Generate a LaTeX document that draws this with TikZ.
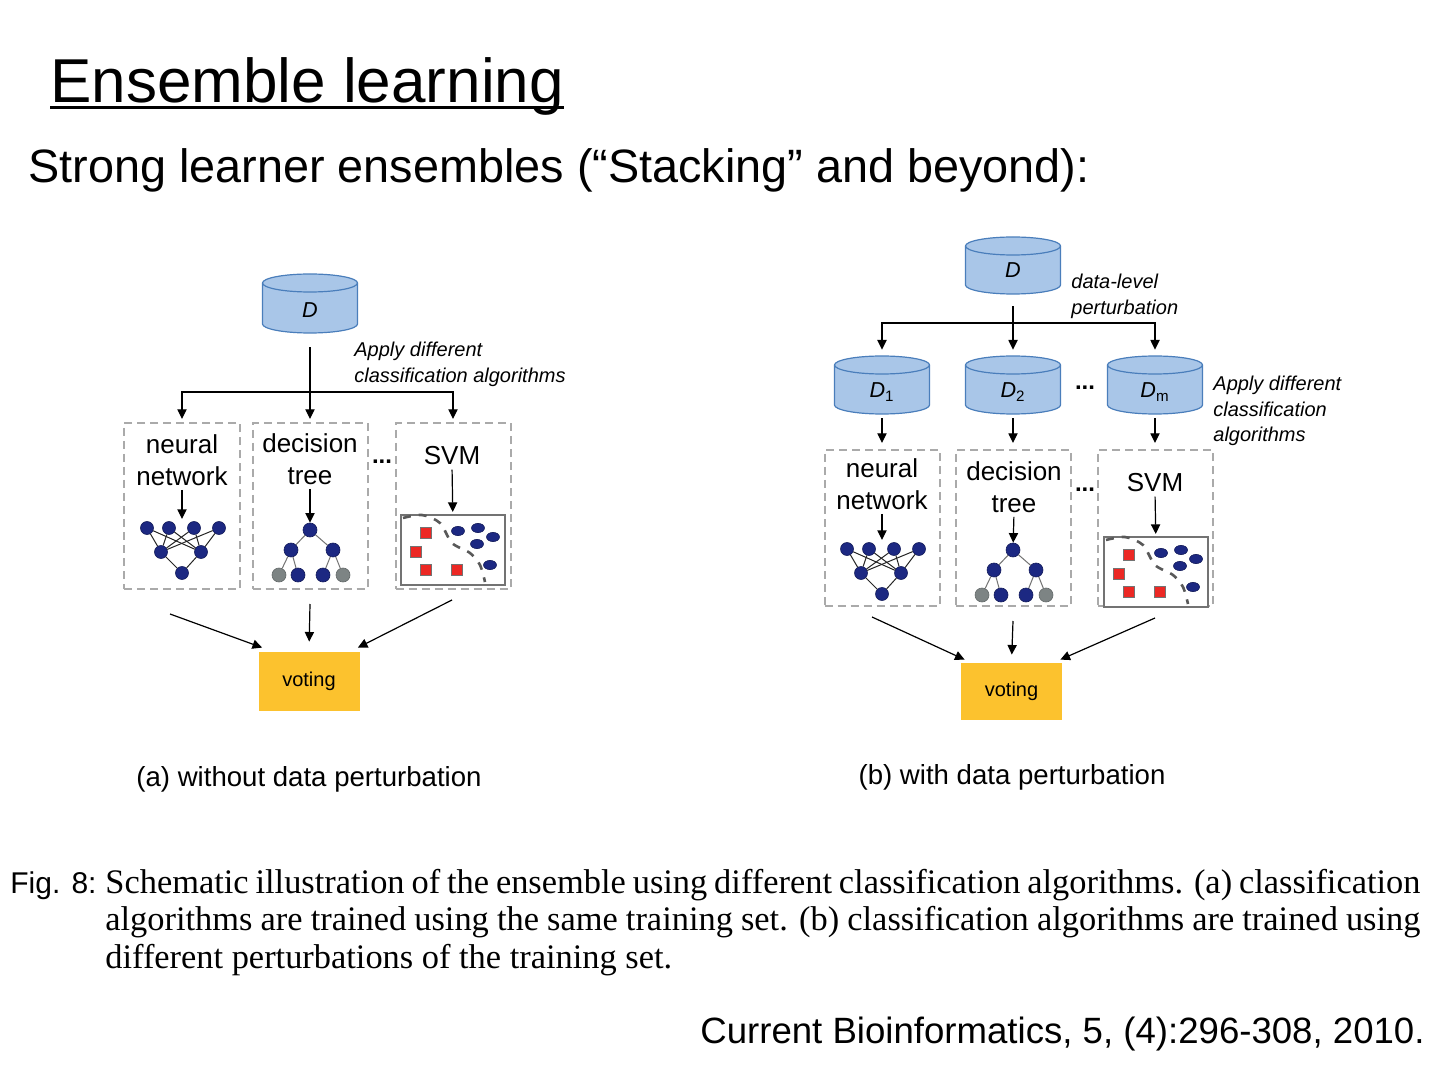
\documentclass[tikz,border=0pt]{standalone}
\usepackage{fontspec}
\newfontfamily\lsans{Liberation Sans}
\newfontfamily\lserif{Liberation Serif}
\usetikzlibrary{arrows.meta,shapes.geometric}
\definecolor{cylfill}{RGB}{169,198,232}
\definecolor{cylborder}{RGB}{74,126,187}
\definecolor{voteyellow}{RGB}{252,194,46}
\definecolor{boxgray}{RGB}{170,170,170}
\definecolor{nodeblue}{RGB}{28,40,130}
\definecolor{leafgray}{RGB}{125,132,132}
\definecolor{sqred}{RGB}{236,40,36}
\newcommand\fsz[2]{\fontsize{#1pt}{#2pt}\selectfont}
\tikzset{
  arr/.style={-{Triangle[length=4.8pt,width=4.6pt]}, line width=0.6pt},
  dbox/.style={draw=boxgray, dash pattern=on 4pt off 2.5pt, line width=1pt, inner sep=0},
  lbl/.style={inner sep=0, align=center, font=\lsans\fsz{13}{16}},
  note/.style={inner sep=0, align=left, font=\lsans\itshape\fsz{10}{13}},
  dots/.style={inner sep=0, font=\lsans\bfseries\fsz{12}{14}},
  cyllbl/.style={inner sep=0, font=\lsans\itshape\fsz{10.8}{12}},
  nnode/.style={circle, fill=nodeblue, draw=nodeblue!70!black, line width=0.3pt, minimum size=6.5pt, inner sep=0},
  tnode/.style={nnode, minimum size=7pt},
  gnode/.style={tnode, fill=leafgray, draw=leafgray!80!black},
  nnedge/.style={draw=black!85, line width=0.5pt},
  tedge/.style={draw=black!55, line width=0.5pt},
  sq/.style={rectangle, fill=sqred, draw=black!55, line width=0.4pt, minimum size=5.5pt, inner sep=0},
  ell/.style={ellipse, fill=nodeblue, draw=nodeblue!70!black, line width=0.3pt, minimum width=6.5pt, minimum height=4.6pt, inner sep=0},
  svmbox/.style={draw=black!55, line width=0.8pt, fill=white, inner sep=0},
  svmcurve/.style={draw=black!65, line width=1.3pt, dash pattern=on 4pt off 4pt},
  vote/.style={fill=voteyellow, minimum width=50.5pt, inner sep=0, font=\lsans\fsz{10}{12}},
  cylstyle/.style={draw=cylborder, fill=cylfill, line width=0.6pt},
  captext/.style={anchor=base west, inner sep=0, font=\lserif\fsz{17.2}{18.75}},
  pics/nnicon/.style={code={
    \node[nnode] (-t1) at (-35,0) {};
    \node[nnode] (-t2) at (-13,0) {};
    \node[nnode] (-t3) at (12,0) {};
    \node[nnode] (-t4) at (37,0) {};
    \node[nnode] (-m1) at (-21,24) {};
    \node[nnode] (-m2) at (19,24) {};
    \node[nnode] (-b) at (0,45) {};
    \coordinate (-in) at (0,-9);
    \foreach \i in {1,2,3,4}{\draw[nnedge] (-t\i) -- (-m1) (-t\i) -- (-m2);}
    \draw[nnedge] (-m1) -- (-b) (-m2) -- (-b);
  }},
  pics/treeicon/.style={code={
    \node[tnode] (-r) at (0,0) {};
    \node[tnode] (-a) at (-19,20) {};
    \node[tnode] (-c) at (23,20) {};
    \node[gnode] (-l1) at (-31,45) {};
    \node[tnode] (-l2) at (-12,45) {};
    \node[tnode] (-l3) at (13,45) {};
    \node[gnode] (-l4) at (33,45) {};
    \draw[tedge] (-r) -- (-a) (-r) -- (-c) (-a) -- (-l1) (-a) -- (-l2) (-c) -- (-l3) (-c) -- (-l4);
  }},
  pics/svmicon/.style={code={
    \node[svmbox, anchor=north west, minimum width=52pt, minimum height=35pt] (-box) at (0,0) {};
    \draw[svmcurve] plot[smooth] coordinates {(3,4) (22,1) (40,9) (52,29) (70,39) (80,51) (85,68)};
    \node[sq] (-s1) at (26,19) {};
    \node[sq] (-s2) at (16,38) {};
    \node[sq] (-s3) at (26,56) {};
    \node[sq] (-s4) at (57,56) {};
    \node[ell] (-e1) at (58,17) {};
    \node[ell] (-e2) at (78,14) {};
    \node[ell] (-e3) at (93,23) {};
    \node[ell] (-e4) at (77,30) {};
    \node[ell] (-e5) at (90,51) {};
  }}
}
% cylinder: name, cx, ytop, ybottom
\newcommand\cyl[4]{%
  \draw[cylstyle] (#2-47.5,#3+9) -- (#2-47.5,#4-9)
     arc[start angle=180,end angle=360,x radius=23.75pt,y radius=4.5pt]
     -- (#2+47.5,#3+9)
     arc[start angle=0,end angle=180,x radius=23.75pt,y radius=4.5pt] -- cycle;
  \draw[cylstyle, fill=none] (#2+47.5,#3+9) arc[start angle=0,end angle=-180,x radius=23.75pt,y radius=4.5pt];
  \node[inner sep=0, minimum width=47.5pt, minimum height={(#4-#3)*0.5pt}] (#1) at (#2,{(#3+#4)/2}) {};
}
\begin{document}
\begin{tikzpicture}[x=0.5pt,y=-0.5pt,font=\lsans]
\useasboundingbox (0,0) rectangle (1440,1080);
\fill[white] (0,0) rectangle (1440,1080);

% titles
\node[anchor=base west, inner sep=0, font=\lsans\fsz{31}{36}] (title) at (50,103) {Ensemble learning};
\draw[line width=1.5pt] ([yshift=-2.4pt]title.base west) -- ([yshift=-2.4pt]title.base east);
\node[anchor=base west, inner sep=0, font=\lsans\fsz{23.4}{28}] (subtitle) at (28,183) {Strong learner ensembles (“Stacking” and beyond):};

% ---------------- panel (a)
\cyl{dA}{310}{274}{333}
\node[cyllbl] (dAl) at (310,310) {D};
\node[note, anchor=west] (applyA) at (354,364) {Apply different\\classification algorithms};

\node[dbox, minimum width=58pt, minimum height=83pt] (nnA) at (182,506) {};
\node[dbox, minimum width=57.5pt, minimum height=83pt] (dtA) at (310,506) {};
\node[dbox, minimum width=57.5pt, minimum height=83pt] (svmA) at (453,506) {};
\node[dots] (dotsA) at (382,462) {...};

\node[lbl] (nnAt) at (182,460) {neural\\network};
\node[lbl] (dtAt) at (310,459) {decision\\tree};
\node[lbl] (svmAt) at (452,456) {SVM};

\pic (nnAi) at (182,528) {nnicon};
\pic (dtAi) at (310,530) {treeicon};
\pic (svmAi) at (400,514) {svmicon};

\coordinate (brA) at (310,392);
\draw[arr, shorten <=7pt, shorten >=1.5pt] (dA.south) -- (dtA.north);
\draw[arr, shorten >=1.5pt] (brA) -| (nnA.north);
\draw[arr, shorten >=1.5pt] (brA) -| (svmA.north);

\draw[arr, shorten <=2pt] (nnAt.south) -- (nnAi-in);
\draw[arr, shorten <=2pt] (dtAt.south) -- (dtAi-r);
\draw[arr, shorten <=2pt, shorten >=1pt] (svmAt.south) -- (svmAi-box.north);

\node[vote, minimum height=29.5pt] (voteA) at (309,681.5) {voting};
\draw[arr] ([xshift=-6pt,yshift=-12pt]nnA.south) -- ([xshift=2pt,yshift=2pt]voteA.north west);
\draw[arr, shorten >=5pt] ([yshift=-7pt]dtA.south) -- (voteA.north);
\draw[arr] ([xshift=-0.5pt,yshift=-5pt]svmA.south) -- ([xshift=-1pt,yshift=2pt]voteA.north east);

\node[inner sep=0, font=\lsans\fsz{13.8}{16}] (capA) at (309,779) {(a) without data perturbation};

% ---------------- panel (b)
\cyl{dB}{1013}{237}{294}
\node[cyllbl] (dBl) at (1013,270) {D};
\node[note, anchor=west] (pertB) at (1071,296) {data-level\\perturbation};

\cyl{d1B}{882}{356}{414}
\cyl{d2B}{1013}{356}{414}
\cyl{dmB}{1155}{356}{414}
\node[cyllbl] (d1Bl) at (882,392) {D\textup{\textsubscript{1}}};
\node[cyllbl] (d2Bl) at (1013,392) {D\textup{\textsubscript{2}}};
\node[cyllbl] (dmBl) at (1155,392) {D\textup{\textsubscript{m}}};
\node[dots] (dotsB1) at (1085,388) {...};
\node[note, anchor=west, font=\lsans\itshape\fsz{10}{12.75}] (applyB) at (1213,411) {Apply different\\classification\\algorithms};

\coordinate (brB) at (1013,323);
\draw[arr, shorten <=6pt, shorten >=3pt] (dB.south) -- (d2B.north);
\draw[arr, shorten >=3pt] (brB) -| (d1B.north);
\draw[arr, shorten >=3pt] (brB) -| (dmB.north);

\node[dbox, minimum width=57.5pt, minimum height=78pt] (nnB) at (882,528) {};
\node[dbox, minimum width=57.5pt, minimum height=78pt] (dtB) at (1013,528) {};
\node[dbox, minimum width=57.5pt, minimum height=78pt] (svmB) at (1155,528) {};
\node[dots] (dotsB2) at (1085,490) {...};

\draw[arr, shorten <=2pt, shorten >=3pt] (d1B.south) -- (nnB.north);
\draw[arr, shorten <=2pt, shorten >=3pt] (d2B.south) -- (dtB.north);
\draw[arr, shorten <=2pt, shorten >=3pt] (dmB.south) -- (svmB.north);

\node[lbl] (nnBt) at (882,484) {neural\\network};
\node[lbl] (dtBt) at (1014,487) {decision\\tree};
\node[lbl] (svmBt) at (1155,483) {SVM};

\pic (nnBi) at (882,549) {nnicon};
\pic (dtBi) at (1013,550) {treeicon};
\pic (svmBi) at (1103,536) {svmicon};

\draw[arr, shorten <=2pt] (nnBt.south) -- (nnBi-in);
\draw[arr, shorten <=2pt] (dtBt.south) -- (dtBi-r);
\draw[arr, shorten <=2pt, shorten >=1pt] (svmBt.south) -- (svmBi-box.north);

\node[vote, minimum height=28.5pt] (voteB) at (1011.5,691.5) {voting};
\draw[arr] ([xshift=-5pt,yshift=-5pt]nnB.south) -- ([xshift=2pt,yshift=1.5pt]voteB.north west);
\draw[arr, shorten >=4pt] ([yshift=-7pt]dtB.south) -- (voteB.north);
\draw[arr] ([yshift=-5.5pt]svmB.south) -- ([xshift=-1pt,yshift=1.5pt]voteB.north east);

\node[inner sep=0, font=\lsans\fsz{13.8}{16}] (capB) at (1012,777) {(b) with data perturbation};

% ---------------- caption
\node[anchor=base west, inner sep=0, font=\lsans\fsz{15}{18}] (fig) at (10,893) {Fig. 8:};
\node[captext] (cap1) at (105,893)
  {\makebox[657.5pt][s]{Schematic illustration of the ensemble using different classification algorithms. (a) classification}};
\node[captext] (cap2) at (105,930.5)
  {\makebox[657.5pt][s]{algorithms are trained using the same training set. (b) classification algorithms are trained using}};
\node[captext] (cap3) at (105,968)
  {different perturbations of the training set.};

\node[anchor=base east, inner sep=0, font=\lsans\fsz{18.3}{22}] (cite) at (1425,1043) {Current Bioinformatics, 5, (4):296-308, 2010.};
\end{tikzpicture}
\end{document}
